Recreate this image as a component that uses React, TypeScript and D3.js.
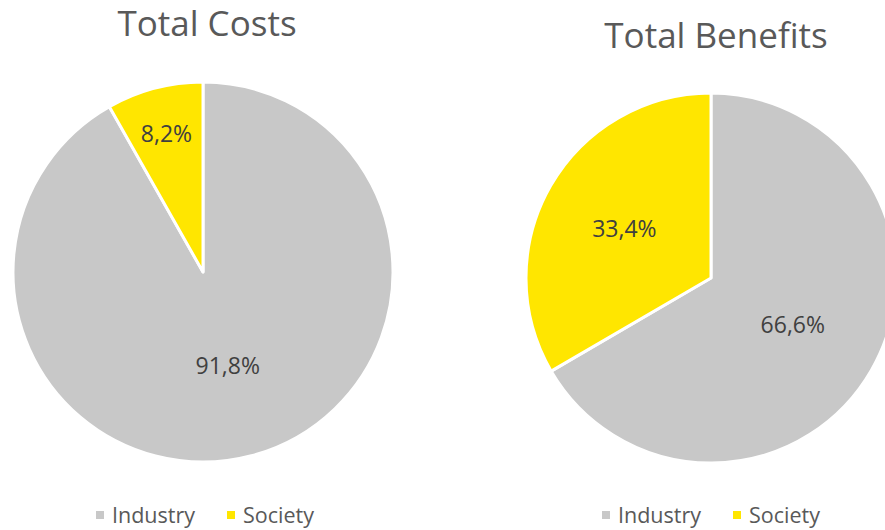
import React from "react";
import * as d3 from "d3";

const categories = ["Industry", "Society"];
const costsValues = [91.8, 8.2];
const benefitsValues = [66.6, 33.4];
const chartTitles = ["Total Costs", "Total Benefits"];

const COLORS: Record<string, string> = { Industry: "#C8C8C8", Society: "#FFE600" };
const FONT = "'Open Sans', 'Noto Sans', sans-serif";

type PieCfg = {
  title: string;
  values: number[];
  cx: number;
  cy: number;
  r: number;
  titleX: number;
  titleY: number;
  labelFrac: number[];
  legendX: number[];
};

const charts: PieCfg[] = [
  { title: chartTitles[0], values: costsValues, cx: 203, cy: 272, r: 190, titleX: 207, titleY: 36, labelFrac: [0.51, 0.755], legendX: [96, 227] },
  { title: chartTitles[1], values: benefitsValues, cx: 711, cy: 278, r: 185, titleX: 716, titleY: 48, labelFrac: [0.51, 0.54], legendX: [602, 733] },
];

function fmt(v: number) {
  return v.toFixed(1).replace(".", ",") + "%";
}

function Pie({ cfg }: { cfg: PieCfg }) {
  const data = categories.map((c, i) => ({ cat: c, v: cfg.values[i] }));
  const pie = d3.pie<{ cat: string; v: number }>().sort(null).value((d) => d.v).startAngle(0).endAngle(2 * Math.PI);
  const arcs = pie(data);
  const arc = d3.arc<d3.PieArcDatum<{ cat: string; v: number }>>().innerRadius(0).outerRadius(cfg.r);
  return (
    <g>
      <text x={cfg.titleX} y={cfg.titleY} textAnchor="middle" fontFamily={FONT} fontSize={35} fill="#595959">
        {cfg.title}
      </text>
      <g transform={`translate(${cfg.cx},${cfg.cy})`}>
        {arcs.map((a, i) => (
          <path key={i} d={arc(a) || ""} fill={COLORS[a.data.cat]} stroke="#FFFFFF" strokeWidth={3} strokeLinejoin="round" />
        ))}
        {arcs.map((a, i) => {
          const lr = cfg.r * cfg.labelFrac[i];
          const c = d3.arc<any>().innerRadius(lr).outerRadius(lr).centroid(a as any);
          return (
            <text key={"l" + i} x={c[0]} y={c[1]} dy="0.36em" textAnchor="middle" fontFamily={FONT} fontSize={23} fill="#404040">
              {fmt(a.data.v)}
            </text>
          );
        })}
      </g>
      {categories.map((c, i) => (
        <g key={"lg" + i}>
          <rect x={cfg.legendX[i]} y={511} width={8} height={8} fill={COLORS[c]} />
          <text x={cfg.legendX[i] + 16} y={523} fontFamily={FONT} fontSize={21.5} fill="#595959">
            {c}
          </text>
        </g>
      ))}
    </g>
  );
}

export default function App() {
  return (
    <svg width={885} height={530} style={{ position: "absolute", left: 0, top: 0, background: "#FFFFFF" }}>
      <rect width={885} height={530} fill="#FFFFFF" />
      {charts.map((c, i) => (
        <Pie key={i} cfg={c} />
      ))}
    </svg>
  );
}
